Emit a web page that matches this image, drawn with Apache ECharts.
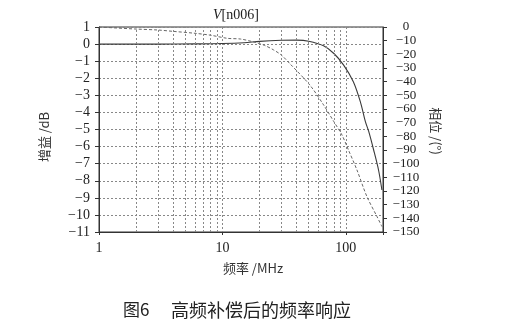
<!DOCTYPE html>
<html>
<head>
<meta charset="utf-8">
<script src="https://cdn.jsdelivr.net/npm/echarts@6/dist/echarts.min.js"></script>
<style>html,body{margin:0;padding:0;background:#fff;}#c{width:512px;height:330px;}</style>
</head>
<body>
<div id="c"></div>
<script>
// Gain curve (solid, left axis, dB)
var gainFreq = [1, 3, 6, 10, 15, 20, 30, 40, 50, 66, 80, 96, 115, 131, 144, 153, 168, 184, 196];
var gainDb   = [0, 0, 0.01, 0.03, 0.08, 0.16, 0.22, 0.23, 0.17, -0.1, -0.55, -1.23, -2.2, -3.37, -4.54, -5.1, -6.2, -7.37, -8.54];
// Phase curve (dashed, right axis, degrees)
var phaseFreq = [1, 2, 3, 4, 6, 8, 11, 14, 18, 22, 26, 30, 35, 51, 66, 80, 93, 105, 123, 148, 179, 196];
var phaseDeg  = [0, -1.5, -2.2, -3.2, -4.6, -6, -8.3, -8.8, -11, -13.5, -16.8, -20.5, -26.6, -42.4, -57, -69.3, -79, -90, -104.6, -124, -138.8, -146];
// Vertical minor grid positions (MHz)
var minorGrid = [2, 3, 4, 5, 6, 7, 8, 9, 20, 30, 40, 50, 60, 70, 80, 90];
var xLabels = ['1', '10', '100'];

var serif = '"Liberation Serif", "Times New Roman", serif';
var cjk = '"Noto Sans CJK SC", sans-serif';
function minus(v){ return v < 0 ? '\u2212' + (-v) : String(v); }

var chart = echarts.init(document.getElementById('c'), null, {renderer: 'canvas'});
chart.setOption({
  animation: false,
  backgroundColor: '#fff',
  grid: {left: 99, right: 129, top: 27, bottom: 98, show: true, borderColor: '#333', borderWidth: 1, backgroundColor: 'transparent'},
  xAxis: {
    type: 'log', logBase: 10, min: 1, max: 200,
    axisLine: {show: true, onZero: false, lineStyle: {color: '#333', width: 1}},
    axisTick: {show: true, inside: false, length: 3, lineStyle: {color: '#333'}},
    axisLabel: {
      margin: 9, color: '#222', fontFamily: serif, fontSize: 14,
      formatter: function (v) { var s = String(Math.round(v)); return xLabels.indexOf(s) >= 0 ? s : ''; }
    },
    splitLine: {show: true, lineStyle: {color: '#888', type: [2, 2], width: 1}}
  },
  yAxis: [{
    type: 'value', min: -11, max: 1, interval: 1, position: 'left',
    axisLine: {show: true, onZero: false, lineStyle: {color: '#333', width: 1}},
    axisTick: {show: true, inside: false, length: 4, lineStyle: {color: '#333'}},
    axisLabel: {margin: 9, color: '#222', fontFamily: serif, fontSize: 14, formatter: minus,
      showMinLabel: true, showMaxLabel: true},
    splitLine: {show: true, lineStyle: {color: '#888', type: [2, 2], width: 1}}
  }, {
    type: 'value', min: -150, max: 0, interval: 10, position: 'right',
    axisLine: {show: true, onZero: false, lineStyle: {color: '#333', width: 1}},
    axisTick: {show: true, inside: false, length: 4, lineStyle: {color: '#333'}},
    axisLabel: {margin: 23, align: 'center', color: '#222', fontFamily: serif, fontSize: 13, formatter: minus},
    splitLine: {show: false}
  }],
  series: [{
    name: 'gain', type: 'line', yAxisIndex: 0, showSymbol: false, smooth: 0.3,
    data: gainFreq.map(function (f, i) { return [f, gainDb[i]]; }),
    lineStyle: {color: '#3a3a3a', width: 1.1},
    markLine: {
      silent: true, symbol: 'none', animation: false,
      label: {show: false},
      lineStyle: {color: '#888', type: [2, 2], width: 1},
      data: minorGrid.map(function (v) { return {xAxis: v}; })
    },
    z: 3
  }, {
    name: 'phase', type: 'line', yAxisIndex: 1, showSymbol: false, smooth: 0.3,
    data: phaseFreq.map(function (f, i) { return [f, phaseDeg[i]]; }),
    lineStyle: {color: '#666', width: 1, type: [3, 2]},
    z: 3
  }],
  graphic: [
    {type: 'text', left: 213, top: 8, style: {
      text: '{i|V}[n006]', fill: '#222', font: '14px ' + serif,
      rich: {i: {fontStyle: 'italic', fontFamily: 'Liberation Serif', fontSize: 14, fill: '#222'}}
    }},
    {type: 'text', x: 44, y: 137, rotation: Math.PI / 2, style: {
      text: '增益 /dB', fill: '#333', font: '13px ' + cjk, align: 'center', verticalAlign: 'middle'
    }},
    {type: 'text', x: 436, y: 131, rotation: -Math.PI / 2, style: {
      text: '相位 /(°)', fill: '#333', font: '13px ' + cjk, align: 'center', verticalAlign: 'middle'
    }},
    {type: 'text', x: 253, y: 268, style: {
      text: '频率 /MHz', fill: '#333', font: '13px ' + cjk, align: 'center', verticalAlign: 'middle'
    }},
    {type: 'text', x: 123, y: 310, style: {
      text: '图6', fill: '#222', font: '17px ' + cjk, verticalAlign: 'middle'
    }},
    {type: 'text', x: 171, y: 310, style: {
      text: '高频补偿后的频率响应', fill: '#222', font: '18px ' + cjk, verticalAlign: 'middle'
    }}
  ]
});
</script>
</body>
</html>
